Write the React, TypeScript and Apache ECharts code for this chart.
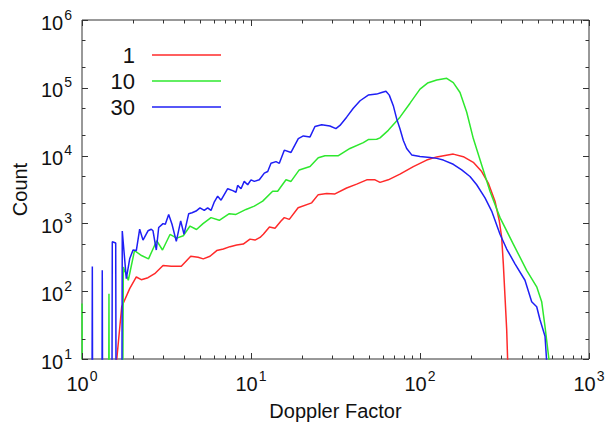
import React, { useEffect, useRef } from 'react';
import * as echarts from 'echarts';

const FONT = "'Liberation Sans', Arial, Helvetica, sans-serif";

const seriesNames = ['1', '10', '30'];
const seriesColors = ['#ff2a2a', '#2ee82e', '#1f1ff5'];

// [Doppler factor, count]; 0.0001 marks an empty bin (drawn below the axis)
const counts1: [number, number][] = [
  [1.60, 9], [1.718, 59], [1.915, 109], [2.096, 162], [2.243, 148], [2.458, 158], [2.692, 181],
  [3.016, 240], [3.373, 234], [3.868, 234], [4.40, 328], [4.86, 317], [5.22, 300], [5.72, 328],
  [6.27, 397], [6.86, 420], [7.51, 454], [8.23, 479], [9.00, 496], [9.86, 586], [10.56, 567],
  [11.31, 621], [11.83, 693], [12.86, 883], [13.87, 849], [15.05, 1087], [15.74, 1216],
  [16.85, 1148], [19.0, 1698], [22.86, 2010], [25.0, 2655], [28.05, 2750], [31.4, 2720],
  [36.8, 3330], [42.2, 3800], [48.4, 4390], [54.2, 4390], [58.0, 4030], [64.9, 4390],
  [76.1, 5320], [91.3, 6890], [109.5, 8590], [125.6, 9570], [140.6, 10070], [157.4, 10520],
  [180.4, 9640], [206.7, 7960], [231.7, 5820], [253.5, 3940], [277.8, 2130], [294.6, 1087],
  [304.3, 621], [311.2, 253], [318.4, 83], [325.8, 27], [330.4, 9],
];

const counts10: [number, number][] = [
  [1.0, 66], [1.014, 0.0001], [1.425, 0.0001], [1.444, 92], [1.464, 0.0001], [1.713, 0.0001],
  [1.756, 227], [1.879, 145], [2.045, 397], [2.25, 336], [2.475, 300], [2.767, 556],
  [2.994, 405], [3.317, 687], [3.635, 607], [3.975, 658], [4.356, 914], [4.76, 813],
  [5.20, 993], [5.80, 1216], [6.49, 1110], [7.44, 1390], [8.15, 1357], [9.34, 1607],
  [10.46, 1800], [11.73, 2130], [13.43, 2978], [14.38, 2978], [16.11, 4395], [17.25, 4160],
  [19.3, 6150], [22.35, 6890], [25.0, 9310], [27.4, 9970], [32.9, 9970], [38.5, 12740],
  [46.2, 15560], [49.4, 17210], [55.4, 17390], [58.0, 18230], [64.9, 23560], [76.1, 36900],
  [87.3, 59300], [100, 95500], [110.8, 117500], [125.6, 130300], [143.9, 138000],
  [157.4, 119400], [172.5, 85300], [189.0, 43650], [206.8, 17820], [231.7, 7280],
  [259.5, 2978], [297.5, 1216], [356.5, 496], [427.7, 203], [490.4, 116], [524.8, 70],
  [549.2, 30], [582, 9],
];

const counts30: [number, number][] = [
  [1.135, 0.0001], [1.151, 232], [1.165, 0.0001], [1.301, 0.0001], [1.318, 203], [1.337, 0.0001],
  [1.491, 0.0001], [1.511, 537], [1.583, 513], [1.605, 0.0001], [1.708, 0.0001], [1.731, 773],
  [1.829, 153], [1.915, 300], [2.004, 405], [2.096, 397], [2.194, 821], [2.296, 567],
  [2.458, 778], [2.570, 821], [2.631, 778], [2.752, 405], [2.843, 869], [3.016, 993],
  [3.111, 970], [3.258, 1357], [3.409, 970], [3.614, 543], [3.837, 1087], [4.015, 693],
  [4.28, 1390], [4.477, 1437], [4.73, 1521], [4.99, 1698], [5.29, 1552], [5.54, 1698],
  [5.80, 1552], [6.07, 2080], [6.35, 2518], [6.65, 2203], [7.28, 3250], [7.80, 3040],
  [8.15, 2880], [8.34, 3640], [8.73, 3250], [9.12, 4170], [9.56, 3715], [10.0, 4395],
  [10.46, 4170], [11.2, 4395], [11.99, 5510], [12.56, 5825], [13.13, 7690], [14.06, 8140],
  [14.71, 7690], [15.74, 12030], [17.25, 11140], [19.05, 17820], [20.4, 19500], [22.35, 18870],
  [23.9, 26900], [26.2, 28500], [29.3, 27300], [31.8, 24950], [33.6, 27860], [36.8, 36900],
  [40.3, 49900], [44.2, 64400], [49.4, 78000], [55.4, 80700], [59.3, 85300], [62.9, 89100],
  [65.8, 78000], [69.5, 54500], [72.8, 34800], [76.1, 24950], [79.7, 16670], [83.4, 12740],
  [89.3, 10240], [100, 9730], [114.6, 9410], [125.6, 9100], [137.4, 8590], [157.4, 7450],
  [176.5, 6150], [197.6, 4920], [216.5, 3715], [242.5, 2377], [265.5, 1521], [297.5, 693],
  [325.8, 419], [364.8, 253], [418, 145], [458, 70], [490.4, 59], [512.9, 38], [549.2, 21.6],
  [562, 9],
];

const seriesData = [counts1, counts10, counts30];

const xMajorTicks = [1, 10, 100, 1000];
const xMinorTicks = [
  2, 3, 4, 5, 6, 7, 8, 9,
  20, 30, 40, 50, 60, 70, 80, 90,
  200, 300, 400, 500, 600, 700, 800, 900,
];
const yMajorTicks = [10, 100, 1000, 10000, 100000, 1000000];
const yMinorTicks = [20, 50, 200, 500, 2000, 5000, 20000, 50000, 200000, 500000];

const TICK_COLOR = '#333';
const TEXT_COLOR = '#111';

const powLabel = (v: number) => `{b|10}{s|${Math.round(Math.log10(v))}}`;
const labelRich = {
  b: { fontSize: 20, fontFamily: FONT, color: TEXT_COLOR, lineHeight: 25, verticalAlign: 'bottom' },
  s: { fontSize: 14, fontFamily: FONT, color: TEXT_COLOR, lineHeight: 15, verticalAlign: 'top', padding: [0, 0, 0, 1] },
};

export default function App() {
  const ref = useRef<HTMLDivElement>(null);

  useEffect(() => {
    if (!ref.current) return;
    const chart = echarts.init(ref.current, undefined, { renderer: 'svg' });

    const lineSeries = seriesData.map((d, i) => ({
      type: 'line',
      name: seriesNames[i],
      data: d,
      showSymbol: false,
      symbol: 'none',
      clip: true,
      lineStyle: { color: seriesColors[i], width: 1.5 },
      itemStyle: { color: seriesColors[i] },
      z: 3 + i,
    }));

    const xTickSeries = {
      type: 'custom',
      silent: true,
      clip: false,
      z: 10,
      encode: { x: 0, y: 1 },
      data: [...xMajorTicks.map((v) => [v, 10, 1]), ...xMinorTicks.map((v) => [v, 10, 0])],
      renderItem: (params: any, api: any) => {
        const cs = params.coordSys;
        const px = Math.round(api.coord([api.value(0), api.value(1)])[0]) + 0.5;
        const len = api.value(2) ? 6 : 3.5;
        const bottom = cs.y + cs.height;
        const style = { stroke: TICK_COLOR, lineWidth: 1 };
        return {
          type: 'group',
          children: [
            { type: 'line', shape: { x1: px, y1: bottom, x2: px, y2: bottom - len }, style },
            { type: 'line', shape: { x1: px, y1: cs.y, x2: px, y2: cs.y + len }, style },
          ],
        };
      },
    };

    const yTickSeries = {
      type: 'custom',
      silent: true,
      clip: false,
      z: 10,
      encode: { x: 0, y: 1 },
      data: [...yMajorTicks.map((v) => [1, v, 1]), ...yMinorTicks.map((v) => [1, v, 0])],
      renderItem: (params: any, api: any) => {
        const cs = params.coordSys;
        const py = Math.round(api.coord([api.value(0), api.value(1)])[1]) + 0.5;
        const len = api.value(2) ? 6 : 3.5;
        const right = cs.x + cs.width;
        const style = { stroke: TICK_COLOR, lineWidth: 1 };
        return {
          type: 'group',
          children: [
            { type: 'line', shape: { x1: cs.x, y1: py, x2: cs.x + len, y2: py }, style },
            { type: 'line', shape: { x1: right, y1: py, x2: right - len, y2: py }, style },
          ],
        };
      },
    };

    const legendRows = [55, 81, 107];
    const legendGraphic = seriesNames.flatMap((n, i) => [
      {
        type: 'text',
        x: 135,
        y: legendRows[i],
        style: {
          text: n,
          fill: TEXT_COLOR,
          font: `22px ${FONT}`,
          align: 'right',
          verticalAlign: 'middle',
          textAlign: 'right',
          textVerticalAlign: 'middle',
        },
        z: 20,
      },
      {
        type: 'line',
        shape: { x1: 152, y1: legendRows[i], x2: 221, y2: legendRows[i] },
        style: { stroke: seriesColors[i], lineWidth: 1.5 },
        z: 20,
      },
    ]);

    chart.setOption({
      animation: false,
      backgroundColor: '#ffffff',
      grid: {
        left: 82,
        top: 20,
        right: 24,
        bottom: 63,
        show: true,
        borderColor: TICK_COLOR,
        borderWidth: 1,
        backgroundColor: 'transparent',
      },
      xAxis: {
        type: 'log',
        logBase: 10,
        min: 1,
        max: 1000,
        name: 'Doppler Factor',
        nameLocation: 'middle',
        nameGap: 42,
        nameTextStyle: { fontSize: 20, color: TEXT_COLOR, fontFamily: FONT },
        axisLine: { show: false },
        axisTick: { show: false },
        minorTick: { show: false },
        splitLine: { show: false },
        axisLabel: { margin: 10, formatter: powLabel, rich: labelRich },
      },
      yAxis: {
        type: 'log',
        logBase: 10,
        min: 10,
        max: 1000000,
        name: 'Count',
        nameLocation: 'middle',
        nameRotate: 90,
        nameGap: 52,
        nameTextStyle: { fontSize: 20, color: TEXT_COLOR, fontFamily: FONT },
        axisLine: { show: false },
        axisTick: { show: false },
        minorTick: { show: false },
        splitLine: { show: false },
        axisLabel: { margin: 10, formatter: powLabel, rich: labelRich },
      },
      series: [...lineSeries, xTickSeries, yTickSeries],
      graphic: legendGraphic,
    });

    return () => chart.dispose();
  }, []);

  return (
    <div
      ref={ref}
      style={{ position: 'absolute', left: 0, top: 0, width: 613, height: 426, background: '#fff' }}
    />
  );
}
